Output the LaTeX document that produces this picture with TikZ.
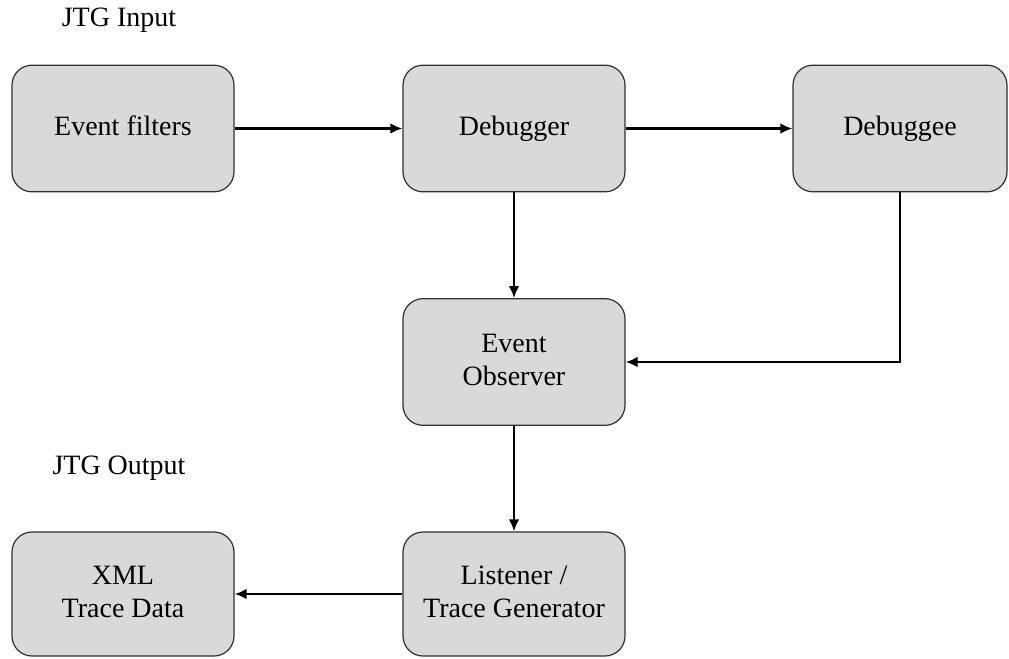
\documentclass[tikz,border=0pt]{standalone}
\usepackage{fontspec}
\setmainfont{Liberation Serif}
\usetikzlibrary{arrows.meta}
\definecolor{boxfill}{HTML}{D9D9D9}
\definecolor{boxline}{HTML}{303030}
\tikzset{
  blk/.style={draw=boxline, line width=0.9pt, fill=boxfill, rounded corners=15pt,
    minimum width=166.5pt, minimum height=95pt, inner sep=0pt, align=center,
    font=\fontsize{21}{25}\selectfont},
  lbl/.style={inner sep=0pt, font=\fontsize{21}{25}\selectfont},
  conn/.style={line width=1.9pt, -{Latex[length=9pt,width=8pt]}}
}
\begin{document}
\begin{tikzpicture}[x=0.75pt,y=-0.75pt]
\useasboundingbox (0,0) rectangle (1009,658);
\node[blk] (ef) at (123,128.5) {\strut Event filters};
\node[blk] (dbg) at (514,128.5) {\strut Debugger};
\node[blk, minimum width=160.5pt] (dbe) at (900,128.5) {\strut Debuggee};
\node[blk] (obs) at (514,362) {\strut Event\\\strut Observer};
\node[blk, minimum height=93pt] (lis) at (514,594) {\strut Listener /\\\strut Trace Generator};
\node[blk, minimum height=93pt] (xml) at (123,594) {\strut XML\\\strut Trace Data};
\node[lbl] (jin) at (119,20) {JTG Input};
\node[lbl] (jout) at (119,468) {JTG Output};
\coordinate (bend) at (dbe.south |- obs.east);
\draw[conn] (ef.east) -- (dbg.west);
\draw[conn] (dbg.east) -- (dbe.west);
\draw[conn] (dbg.south) -- (obs.north);
\draw[conn] (dbe.south) -- (bend) -- (obs.east);
\draw[conn] (obs.south) -- (lis.north);
\draw[conn] (lis.west) -- (xml.east);
\end{tikzpicture}
\end{document}
